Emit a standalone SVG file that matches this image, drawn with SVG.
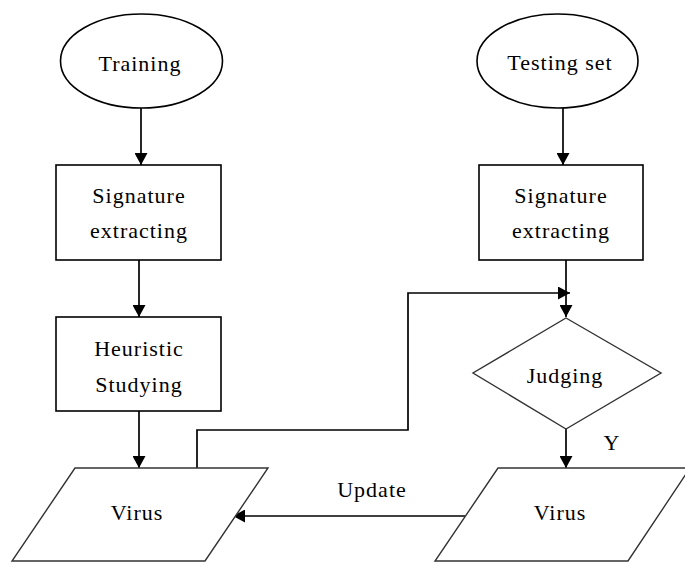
<svg xmlns="http://www.w3.org/2000/svg" width="685" height="562" viewBox="0 0 685 562">
<defs>
<style>
.shape{fill:#fff;stroke:#000;stroke-width:1.6}
.para{fill:#fff;stroke:#333;stroke-width:1.4}
.conn{fill:none;stroke:#000;stroke-width:1.7}
text{font-family:"Liberation Serif","Times New Roman",serif;font-size:22px;fill:#000;text-anchor:middle;letter-spacing:1px}
</style>
<marker id="arr" viewBox="0 0 12 13" refX="12" refY="6.5" markerWidth="12" markerHeight="13" markerUnits="userSpaceOnUse" orient="auto">
<path d="M0,0 L12,6.5 L0,13 Z" fill="#000"/>
</marker>
</defs>
<rect width="685" height="562" fill="#fff"/>
<g id="connectors">
<line class="conn" x1="141" y1="108" x2="141" y2="165" marker-end="url(#arr)"/>
<line class="conn" x1="139" y1="260" x2="139" y2="317" marker-end="url(#arr)"/>
<line class="conn" x1="139" y1="411" x2="139" y2="468" marker-end="url(#arr)"/>
<line class="conn" x1="563" y1="108" x2="563" y2="165" marker-end="url(#arr)"/>
<line class="conn" x1="566" y1="260" x2="566" y2="317" marker-end="url(#arr)"/>
<polyline class="conn" points="197,468 197,430 408,430 408,293 570,293" marker-end="url(#arr)"/>
<line class="conn" x1="566" y1="429" x2="566" y2="468" marker-end="url(#arr)"/>
<line class="conn" x1="465" y1="516" x2="233" y2="516" marker-end="url(#arr)"/>
<text x="612" y="450">Y</text>
<text x="372" y="497">Update</text>
</g>
<g id="training">
<ellipse class="shape" cx="141.5" cy="61" rx="81" ry="47"/>
<text x="140" y="71">Training</text>
</g>
<g id="sig-left">
<rect class="shape" x="56" y="165" width="165" height="95"/>
<text x="139" y="203">Signature</text>
<text x="139" y="238">extracting</text>
</g>
<g id="heuristic">
<rect class="shape" x="56" y="317" width="165" height="94"/>
<text x="139" y="356">Heuristic</text>
<text x="139" y="392">Studying</text>
</g>
<g id="virus-left">
<polygon class="para" points="75,468 268,468 205,561 12,561"/>
<text x="137" y="520">Virus</text>
</g>
<g id="testing">
<ellipse class="shape" cx="557.5" cy="61" rx="80.5" ry="47"/>
<text x="560" y="70">Testing set</text>
</g>
<g id="sig-right">
<rect class="shape" x="479" y="165" width="164" height="95"/>
<text x="561" y="203">Signature</text>
<text x="561" y="238">extracting</text>
</g>
<g id="judging">
<polygon class="para" points="566,318 661,373 566,429 473,373"/>
<text x="565" y="383">Judging</text>
</g>
<g id="virus-right">
<polygon class="para" points="498,468 690,468 628,561 435,561"/>
<text x="560" y="520">Virus</text>
</g>
</svg>
